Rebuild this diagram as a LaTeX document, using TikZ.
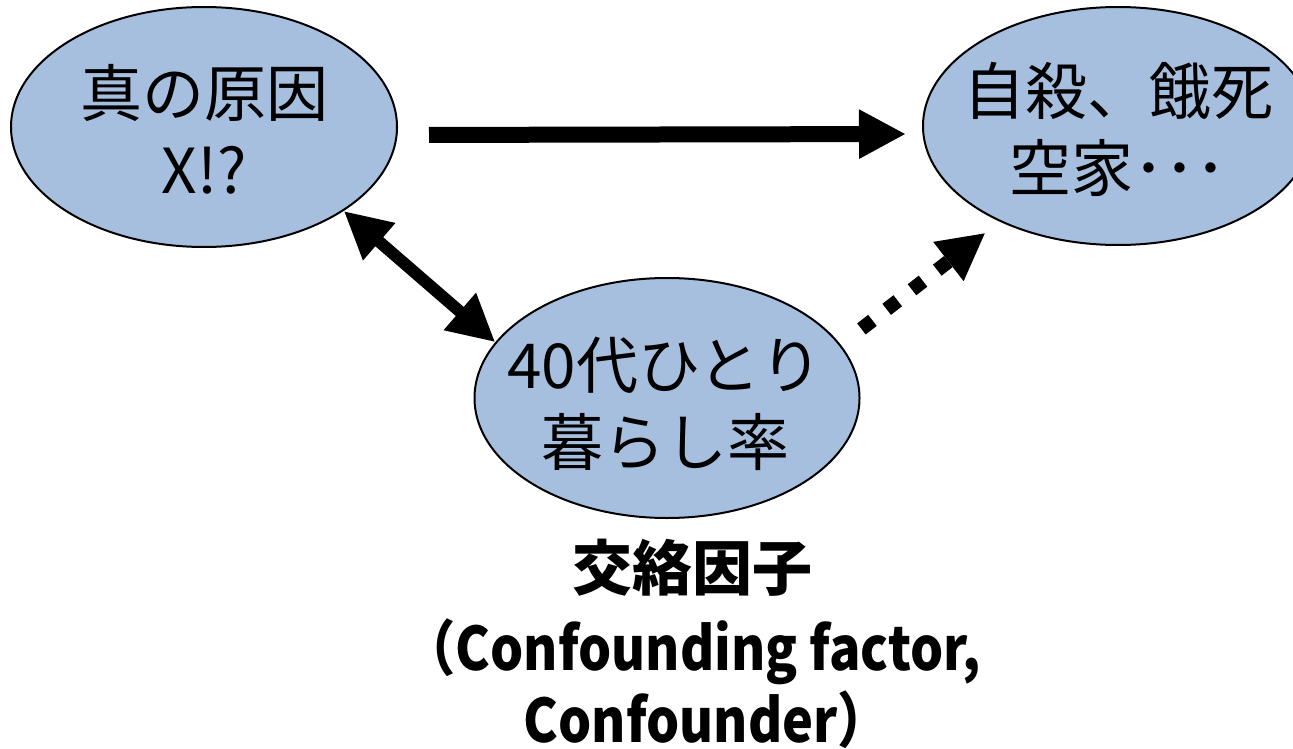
\documentclass[tikz,border=0pt]{standalone}
\usepackage{fontspec}
\usepackage{graphicx}
\setmainfont{Noto Sans CJK JP}
\usetikzlibrary{shapes.geometric,arrows.meta,calc}
\definecolor{ellfill}{RGB}{167,191,222}
\newcommand{\narrow}[1]{\scalebox{0.87}[1]{#1}}
\begin{document}
\begin{tikzpicture}[x=1pt,y=-1pt,
  bubble/.style={ellipse, draw=black, line width=2pt, fill=ellfill, inner sep=0pt},
  bubtext/.style={align=center, inner sep=0pt, font=\fontsize{62}{77}\selectfont},
  captext/.style={align=center, inner sep=0pt, font=\bfseries\fontsize{60}{72}\selectfont},
  bigtip/.style={-{Triangle[length=47pt,width=46pt]}},
  solidarrow/.style={line width=16pt, bigtip},
  twoway/.style={line width=12pt, {Triangle[length=47pt,width=46pt]}-{Triangle[length=47pt,width=46pt]}},
  dotarrow/.style={line width=14pt, dash pattern=on 14pt off 18pt, line cap=butt, bigtip}
]
\useasboundingbox (0,0) rectangle (1293,749);
% ellipses
\node[bubble, minimum width=386pt, minimum height=240pt] (L) at (204,127) {};
\node[bubble, minimum width=390pt, minimum height=238pt] (R) at (1118,126) {};
\node[bubble, minimum width=385pt, minimum height=240pt] (M) at (667,398) {};
% texts
\node[bubtext] (Lt) at (204,129) {真の原因\\X!?};
\node[bubtext] (Rt) at (1118,129) {自殺、餓死\\空家･･･};
\node[bubtext] (Mt) at (665,404) {40代ひとり\\暮らし率};
\node[captext] (cap) at (692,568) {交絡因子};
\node[captext] (en) at (692,684) {\narrow{（Confounding factor,}\\\hspace{30pt}\narrow{Confounder）}};
% connectors
\draw[solidarrow, shorten <=31pt, shorten >=16pt] ([yshift=-8pt]L.east) -- ([yshift=-8pt]R.west);
\draw[twoway] (L.-31) -- (M.162);
\draw[dotarrow, shorten <=26pt, shorten >=18pt] (M.17) -- (R.219);
\end{tikzpicture}
\end{document}
